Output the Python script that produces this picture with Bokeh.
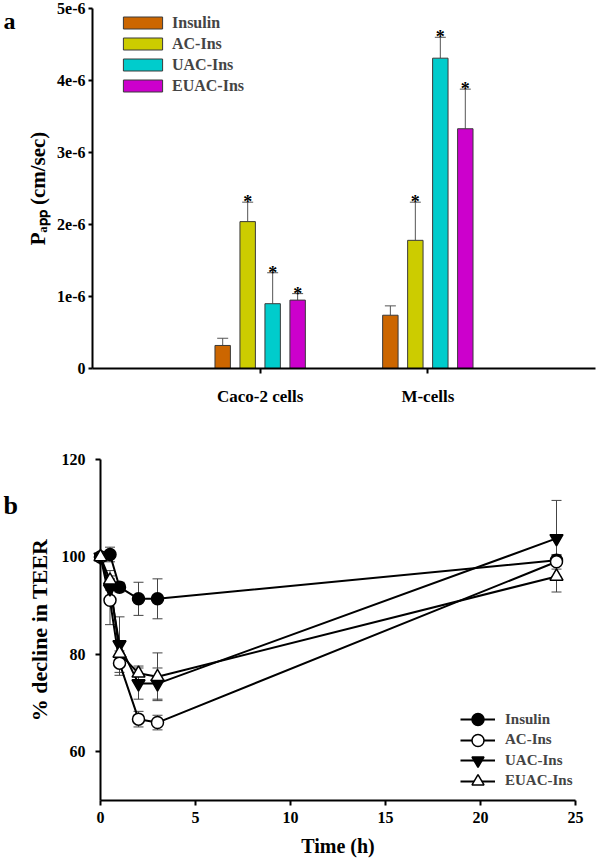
import numpy as np
from bokeh.plotting import figure
from bokeh.models import (ColumnDataSource, Range1d, FixedTicker, Whisker, TeeHead,
                          Legend, LegendItem, Label)
from bokeh.layouts import column, row
from bokeh.embed import file_html
from bokeh.resources import INLINE
from bokeh.core.properties import value

# ---------------- Panel a data ----------------
groups = ["Caco-2 cells", "M-cells"]
treatments = ["Insulin", "AC-Ins", "UAC-Ins", "EUAC-Ins"]
bar_colors = ["#CC6600", "#CCCC00", "#00CCCC", "#CC00CC"]
papp_caco2 = [0.32e-6, 2.04e-6, 0.90e-6, 0.95e-6]
papp_caco2_err = [0.10e-6, 0.27e-6, 0.43e-6, 0.09e-6]
papp_mcells = [0.74e-6, 1.78e-6, 4.31e-6, 3.33e-6]
papp_mcells_err = [0.13e-6, 0.53e-6, 0.29e-6, 0.55e-6]
significant = [False, True, True, True]
papp_ticks = [0, 1, 2, 3, 4, 5]          # in units of 1e-6 cm/sec
papp_tick_labels = ["0", "1e-6", "2e-6", "3e-6", "4e-6", "5e-6"]

# ---------------- Panel b data ----------------
time_h = [0, 0.5, 1, 2, 3, 24]
teer_insulin = [100, 100.5, 93.8, 91.4, 91.4, 99.3]
teer_insulin_err = [0, 1.5, 1.0, 3.4, 4.1, 1.0]
teer_ac = [100, 91.1, 78.2, 66.7, 66.0, 99.0]
teer_ac_err = [0, 5.0, 2.5, 1.6, 1.5, 1.5]
teer_uac = [100, 93.5, 82.0, 74.0, 74.0, 103.8]
teer_uac_err = [0, 2.0, 5.7, 3.2, 3.2, 7.8]
teer_euac = [100, 95.2, 80.2, 76.1, 75.4, 96.0]
teer_euac_err = [0, 2.0, 2.0, 1.5, 4.9, 3.2]
time_ticks = [0, 5, 10, 15, 20, 25]
teer_ticks = [60, 80, 100, 120]

FONT = "Liberation Serif"
W = 597
SIDE_W = 18
H1 = 408
H2 = 456


def style_axis(ax, size, tick_out, standoff):
    ax.axis_line_width = 2
    ax.axis_line_color = "black"
    ax.major_tick_line_width = 2
    ax.major_tick_line_color = "black"
    ax.major_tick_out = tick_out
    ax.major_tick_in = 0
    ax.minor_tick_line_color = None
    ax.major_label_text_font = FONT
    ax.major_label_text_font_style = "bold"
    ax.major_label_text_font_size = size
    ax.major_label_text_color = "black"
    ax.major_label_standoff = standoff


def style_label(ax, size, standoff):
    ax.axis_label_text_font = FONT
    ax.axis_label_text_font_style = "bold"
    ax.axis_label_text_font_size = size
    ax.axis_label_text_color = "black"
    ax.axis_label_standoff = standoff


def side_fig(w, h):
    s = figure(width=w, height=h, x_range=Range1d(0, w), y_range=Range1d(0, h),
               x_axis_type=None, y_axis_type=None, output_backend="svg",
               toolbar_location=None, min_border=0)
    s.outline_line_color = None
    return s


def letter(fig, x, y, text, size):
    fig.add_layout(Label(x=x, y=y, text=text, text_align="left",
                         text_baseline="alphabetic", text_font=FONT,
                         text_font_style="bold", text_font_size=size,
                         text_color="black"))


# ================= Panel a =================
p1 = figure(width=W - SIDE_W, height=H1, x_range=Range1d(0, 3), y_range=Range1d(0, 5),
            output_backend="svg", toolbar_location=None,
            min_border_left=92 - SIDE_W, min_border_right=2, min_border_top=8,
            min_border_bottom=H1 - 368)
p1.grid.visible = False
p1.outline_line_color = None

n = len(treatments)
group_pos = np.arange(1, len(groups) + 1)
slot = 0.149
bar_w = 0.092
items = []
for i, t in enumerate(treatments):
    xs = group_pos + (i - (n - 1) / 2) * slot
    tops = np.array([papp_caco2[i], papp_mcells[i]]) * 1e6
    errs = np.array([papp_caco2_err[i], papp_mcells_err[i]]) * 1e6
    src = ColumnDataSource(dict(x=xs, top=tops, upper=tops + errs))
    p1.add_layout(Whisker(base="x", upper="upper", lower="top", source=src,
                          line_color="#555555", line_width=1,
                          upper_head=TeeHead(size=11, line_color="#555555", line_width=1),
                          lower_head=None))
    r = p1.vbar(x="x", top="top", bottom=0, width=bar_w, source=src,
                fill_color=bar_colors[i], line_color="#3a3a3a", line_width=1)
    items.append(LegendItem(label=t, renderers=[r]))
    if significant[i]:
        p1.text(x="x", y="upper", text=value("*"), source=src, text_font_size="18px",
                text_align="center", text_baseline="alphabetic",
                text_font=value(FONT), text_font_style="bold", text_color="black")

xa = p1.xaxis[0]
style_axis(xa, "17px", 5, 13)
xa.ticker = FixedTicker(ticks=[int(g) for g in group_pos])
xa.major_label_overrides = {int(g): lab for g, lab in zip(group_pos, groups)}
ya = p1.yaxis[0]
style_axis(ya, "16px", 4, 3)
ya.ticker = FixedTicker(ticks=papp_ticks)
ya.major_label_overrides = {k: lab for k, lab in zip(papp_ticks, papp_tick_labels)}
ya.axis_label = "P\u2090\u209a\u209a (cm/sec)"
style_label(ya, "21px", 4)

leg1 = Legend(items=items, location=(26, 272), orientation="vertical",
              glyph_width=49, glyph_height=15, label_height=21, spacing=0,
              padding=0, margin=0, label_standoff=5,
              border_line_color=None, background_fill_alpha=0,
              label_text_font=FONT, label_text_font_style="bold",
              label_text_font_size="16px")
p1.add_layout(leg1)

s1 = side_fig(SIDE_W, H1)
letter(s1, 3, H1 - 14, "a", "24px")

# ================= Panel b =================
p2 = figure(width=W - SIDE_W, height=H2, x_range=Range1d(0, 25), y_range=Range1d(50, 120),
            output_backend="svg", toolbar_location=None,
            min_border_left=100 - SIDE_W, min_border_right=22, min_border_top=459 - H1,
            min_border_bottom=H1 + H2 - 800)
p2.grid.visible = False
p2.outline_line_color = None

series = [
    ("Insulin", teer_insulin, teer_insulin_err, "circle", "black"),
    ("AC-Ins", teer_ac, teer_ac_err, "circle", "white"),
    ("UAC-Ins", teer_uac, teer_uac_err, "inverted_triangle", "black"),
    ("EUAC-Ins", teer_euac, teer_euac_err, "triangle", "white"),
]
srcs = []
for name, ys, es, mk, fc in series:
    ys = np.array(ys, dtype=float)
    es = np.array(es, dtype=float)
    src = ColumnDataSource(dict(t=time_h, y=ys, lo=ys - es, hi=ys + es))
    srcs.append(src)
    p2.add_layout(Whisker(base="t", upper="hi", lower="lo", source=src,
                          line_color="#444444", line_width=1,
                          upper_head=TeeHead(size=10, line_color="#444444", line_width=1),
                          lower_head=TeeHead(size=10, line_color="#444444", line_width=1)))
lines = [p2.line(x="t", y="y", source=src, line_color="black", line_width=2) for src in srcs]
items2 = []
for (name, ys, es, mk, fc), src, ln in zip(series, srcs, lines):
    sz = 12 if mk == "circle" else 13
    sc = p2.scatter(x="t", y="y", source=src, marker=mk, size=sz, fill_color=fc,
                    line_color="black", line_width=1.5, level="overlay")
    items2.append(LegendItem(label=name, renderers=[ln, sc]))

xb = p2.xaxis[0]
style_axis(xb, "16px", 5, 6)
xb.ticker = FixedTicker(ticks=time_ticks)
xb.axis_label = "Time (h)"
style_label(xb, "20px", 9)
yb = p2.yaxis[0]
style_axis(yb, "16px", 5, 10)
yb.ticker = FixedTicker(ticks=teer_ticks)
yb.axis_label = "% decline in TEER"
style_label(yb, "22px", 7)

# one legend per entry so that markers stay large while rows stay close
row_pitch = 20.5
for k, it in enumerate(items2):
    yk = 19.5 + (len(items2) - 1 - k) * row_pitch - 15
    p2.add_layout(Legend(items=[it], location=(360, yk), orientation="vertical",
                         glyph_width=35, glyph_height=30, label_height=30, spacing=0,
                         padding=0, margin=0, label_standoff=10,
                         border_line_color=None, background_fill_alpha=0,
                         label_text_font=FONT, label_text_font_style="bold",
                         label_text_font_size="15px"))

s2 = side_fig(SIDE_W, H2)
letter(s2, 3, H1 + H2 - 469, "b", "26px")

layout = column(row(s1, p1, spacing=0), row(s2, p2, spacing=0), spacing=0)
open("out.html", "w").write(file_html(layout, INLINE))
